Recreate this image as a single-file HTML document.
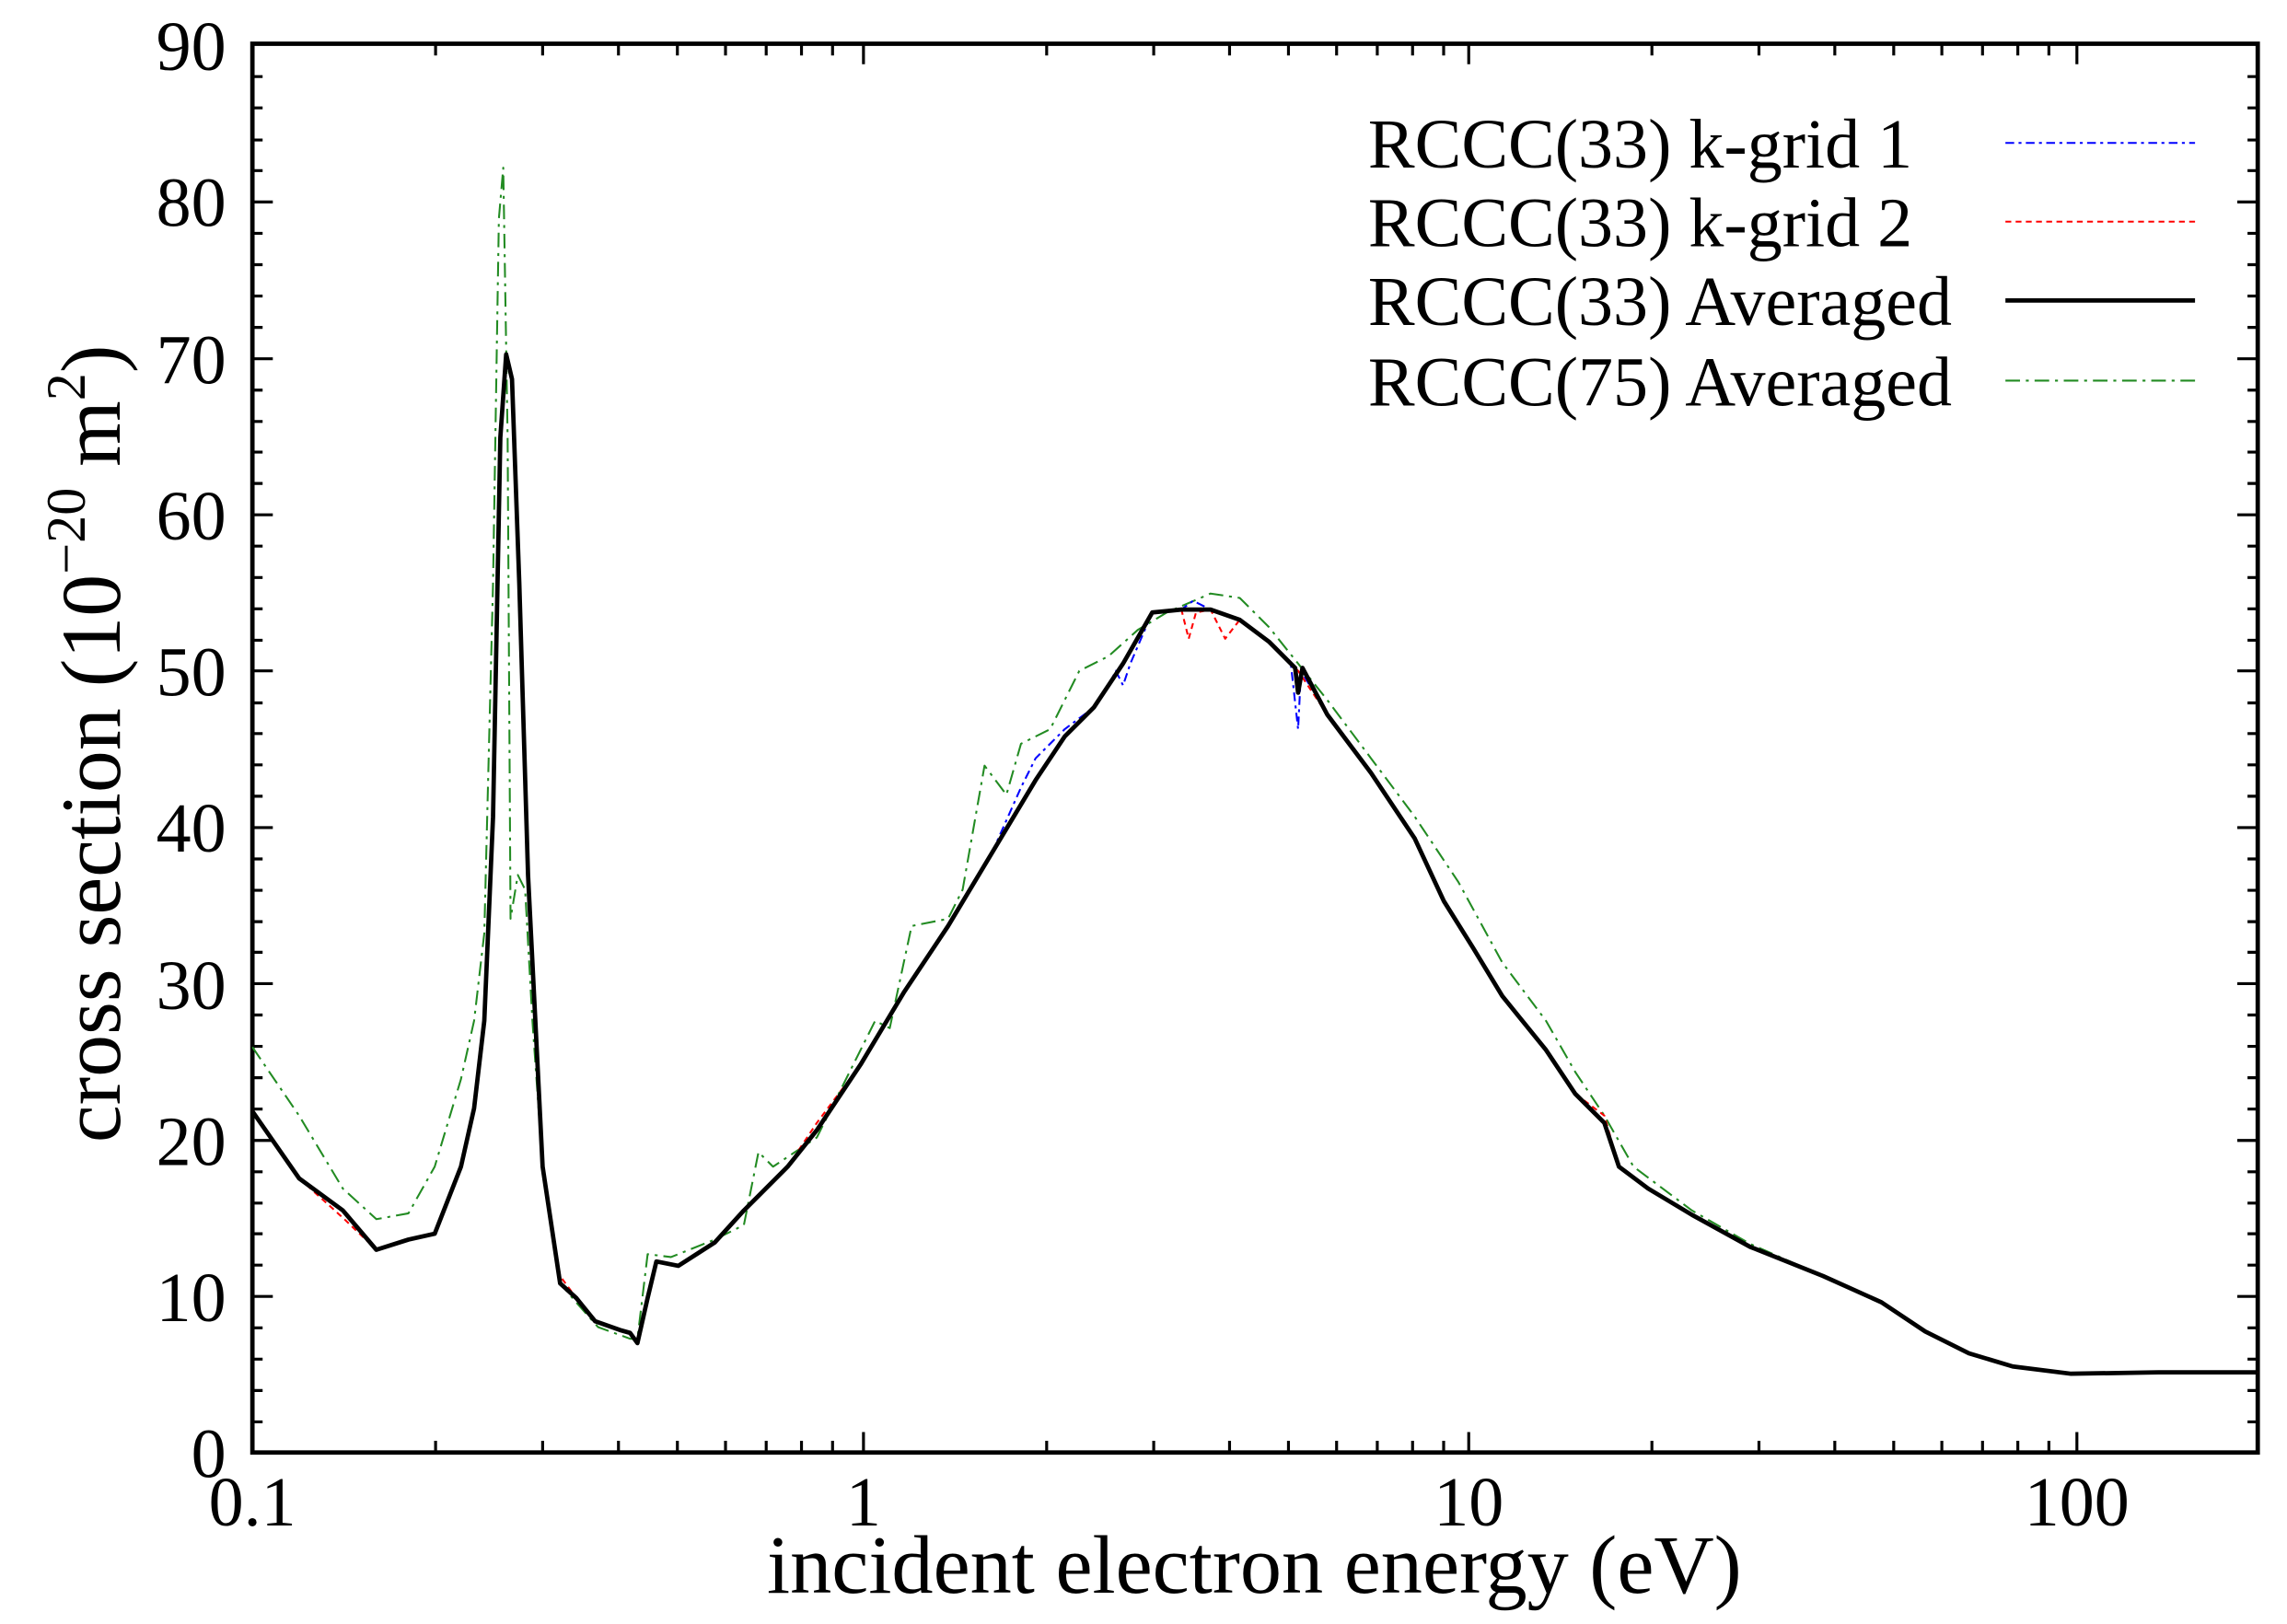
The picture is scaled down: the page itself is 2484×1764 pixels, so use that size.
<!DOCTYPE html>
<html><head><meta charset="utf-8"><style>
html,body{margin:0;padding:0;background:#fff}
svg{display:block}
text{font-family:"Liberation Serif",serif;fill:#000}
</style></head><body>
<svg width="2484" height="1764" viewBox="0 0 1568 1113.6" xmlns="http://www.w3.org/2000/svg">
<rect width="1568" height="1113.6" fill="#fff"/>
<g stroke="#000" stroke-width="2">
<path d="M173 996h14M173 975h7M173 953.5h7M173 932h7M173 910.5h7M173 889h14M173 867.5h7M173 846h7M173 825h7M173 803.5h7M173 782h14M173 760.5h7M173 739h7M173 717.5h7M173 696h7M173 674.5h14M173 653h7M173 632h7M173 610.5h7M173 589h7M173 567.5h14M173 546h7M173 524.5h7M173 503h7M173 482h7M173 460h14M173 439h7M173 417.5h7M173 396h7M173 374.5h7M173 353h14M173 331.5h7M173 310h7M173 289h7M173 267.5h7M173 246h14M173 224.5h7M173 203h7M173 181.5h7M173 160h7M173 138.5h14M173 117h7M173 96h7M173 74h7M173 52.5h7"/>
<path d="M1548 889h-14M1548 782h-14M1548 674.5h-14M1548 567.5h-14M1548 460h-14M1548 353h-14M1548 246h-14M1548 138.5h-14M1548 975h-7M1548 953.5h-7M1548 932h-7M1548 910.5h-7M1548 867.5h-7M1548 846h-7M1548 825h-7M1548 803.5h-7M1548 760.5h-7M1548 739h-7M1548 717.5h-7M1548 696h-7M1548 653h-7M1548 632h-7M1548 610.5h-7M1548 589h-7M1548 546h-7M1548 524.5h-7M1548 503h-7M1548 482h-7M1548 439h-7M1548 417.5h-7M1548 396h-7M1548 374.5h-7M1548 331.5h-7M1548 310h-7M1548 289h-7M1548 267.5h-7M1548 224.5h-7M1548 203h-7M1548 181.5h-7M1548 160h-7M1548 117h-7M1548 96h-7M1548 74h-7M1548 52.5h-7"/>
<path d="M592 996v-14M1007 996v-14M1424 996v-14M592 30v14M1007 30v14M1424 30v14"/>
<path d="M298.6 996v-8M372 996v-8M424 996v-8M464.4 996v-8M497.4 996v-8M525.3 996v-8M549.5 996v-8M570.8 996v-8
M717.6 996v-8M791 996v-8M843 996v-8M883.4 996v-8M916.4 996v-8M944.3 996v-8M968.5 996v-8M989.8 996v-8
M1132.6 996v-8M1206 996v-8M1258 996v-8M1298.4 996v-8M1331.4 996v-8M1359.3 996v-8M1383.5 996v-8M1404.8 996v-8
M298.6 30v8M372 30v8M424 30v8M464.4 30v8M497.4 30v8M525.3 30v8M549.5 30v8M570.8 30v8
M717.6 30v8M791 30v8M843 30v8M883.4 30v8M916.4 30v8M944.3 30v8M968.5 30v8M989.8 30v8
M1132.6 30v8M1206 30v8M1258 30v8M1298.4 30v8M1331.4 30v8M1359.3 30v8M1383.5 30v8M1404.8 30v8"/>
</g>
<rect x="173" y="30" width="1375" height="966" fill="none" stroke="#000" stroke-width="3"/>

<g fill="none" stroke-linejoin="round">
<polyline stroke="#228b22" stroke-width="1.3" stroke-dasharray="10,4,2,4" points="173,718 205,765 235,815 258,836 280,832 298,800 316,740 325,700 332,640 338,400 342,150 345,115 348,300 350,630 355,600 360,610 365,700 372,800 384,880 395,893 410,910 432,918 437,918 444,860 460,862 490,850 510,840 520,790 530,800 560,780 590,720 600,700 610,705 625,635 650,630 660,610 675,525 690,545 700,510 720,500 740,460 760,450 780,432 800,420 830,407 850,410 870,430 890,455 910,480 940,520 970,560 1000,605 1030,660 1060,700 1080,735 1100,765 1120,800 1160,830 1200,853 1250,875 1290,893 1320,913 1350,928 1380,937 1420,942 1548,941"/>
<polyline stroke="#0000ff" stroke-width="1.3" stroke-dasharray="6,3,2,3" points="173,762 205,808 235,830 258,857 280,850 298,846 316,800 325,760 332,700 338,560 343,300 347,243 351,260 356,400 362,600 372,800 384,880 395,890 408,906 425,912 432,914 437,921 444,890 450,865 465,868 490,852 510,830 540,800 560,775 590,730 620,680 650,635 680,585 700,540 710,520 730,500 750,485 760,470 765,460 770,470 775,455 790,420 810,418 818,412 830,418 850,425 870,440 885,455 890,500 892,460 910,490 940,530 970,575 990,618 1010,650 1030,683 1060,720 1080,750 1100,770 1110,800 1130,815 1160,833 1200,855 1250,875 1290,893 1320,913 1350,928 1380,937 1420,942 1480,941 1548,941"/>
<polyline stroke="#ff0000" stroke-width="1.3" stroke-dasharray="4,3" points="173,762 205,808 235,835 258,857 280,850 298,846 316,800 325,760 332,700 338,560 343,300 347,243 351,260 356,400 362,600 372,800 384,875 395,890 408,906 425,912 432,914 437,921 444,890 450,865 465,868 490,852 510,830 540,800 560,770 590,730 620,680 650,635 680,585 710,535 730,505 750,485 770,455 790,420 810,418 815,438 820,420 830,418 840,438 850,425 870,440 890,460 910,490 940,530 970,575 990,618 1010,650 1030,683 1060,720 1080,750 1100,765 1110,800 1130,815 1160,833 1200,855 1250,875 1290,893 1320,913 1350,928 1380,937 1420,942 1480,941 1548,941"/>
<polyline stroke="#000" stroke-width="3" points="173,762 205,808 235,830 258,857 280,850 298,846 316,800 325,760 332,700 338,560 343,300 347,243 351,260 356,400 362,600 372,800 384,880 395,890 408,906 425,912 432,914 437,921 444,890 450,865 465,868 490,852 510,830 540,800 560,775 590,730 620,680 650,635 680,585 710,535 730,505 750,485 770,455 790,420 810,418 830,418 850,425 870,440 888,458 890,475 893,458 910,490 940,530 970,575 990,618 1010,650 1030,683 1060,720 1080,750 1100,770 1110,800 1130,815 1160,833 1200,855 1250,875 1290,893 1320,913 1350,928 1380,937 1420,942 1480,941 1548,941"/>
</g>

<g font-size="48" text-anchor="end">
<text x="155" y="1013">0</text>
<text x="155" y="906">10</text>
<text x="155" y="799">20</text>
<text x="155" y="692">30</text>
<text x="155" y="584">40</text>
<text x="155" y="477">50</text>
<text x="155" y="370">60</text>
<text x="155" y="263">70</text>
<text x="155" y="155">80</text>
<text x="155" y="48">90</text>
</g>
<g font-size="48" text-anchor="middle">
<text x="173" y="1046">0.1</text>
<text x="592" y="1046">1</text>
<text x="1007" y="1046">10</text>
<text x="1424" y="1046">100</text>
</g>
<text x="860" y="1092" font-size="57" text-anchor="middle">incident electron energy (eV)</text>
<text transform="translate(82,510) rotate(-90)" font-size="58" text-anchor="middle">cross section (10<tspan dy="-24" font-size="38">−20</tspan><tspan dy="24"> m</tspan><tspan dy="-24" font-size="38">2</tspan><tspan dy="24">)</tspan></text>

<g font-size="48">
<text x="938" y="115">RCCC(33) k-grid 1</text>
<text x="938" y="169">RCCC(33) k-grid 2</text>
<text x="938" y="223">RCCC(33) Averaged</text>
<text x="938" y="278">RCCC(75) Averaged</text>
</g>
<g fill="none">
<line x1="1375" y1="98" x2="1505" y2="98" stroke="#0000ff" stroke-width="1.3" stroke-dasharray="6,3,2,3"/>
<line x1="1375" y1="152" x2="1505" y2="152" stroke="#ff0000" stroke-width="1.3" stroke-dasharray="4,3"/>
<line x1="1375" y1="206" x2="1505" y2="206" stroke="#000" stroke-width="3"/>
<line x1="1375" y1="261" x2="1505" y2="261" stroke="#228b22" stroke-width="1.3" stroke-dasharray="10,4,2,4"/>
</g>
</svg>
</body></html>
